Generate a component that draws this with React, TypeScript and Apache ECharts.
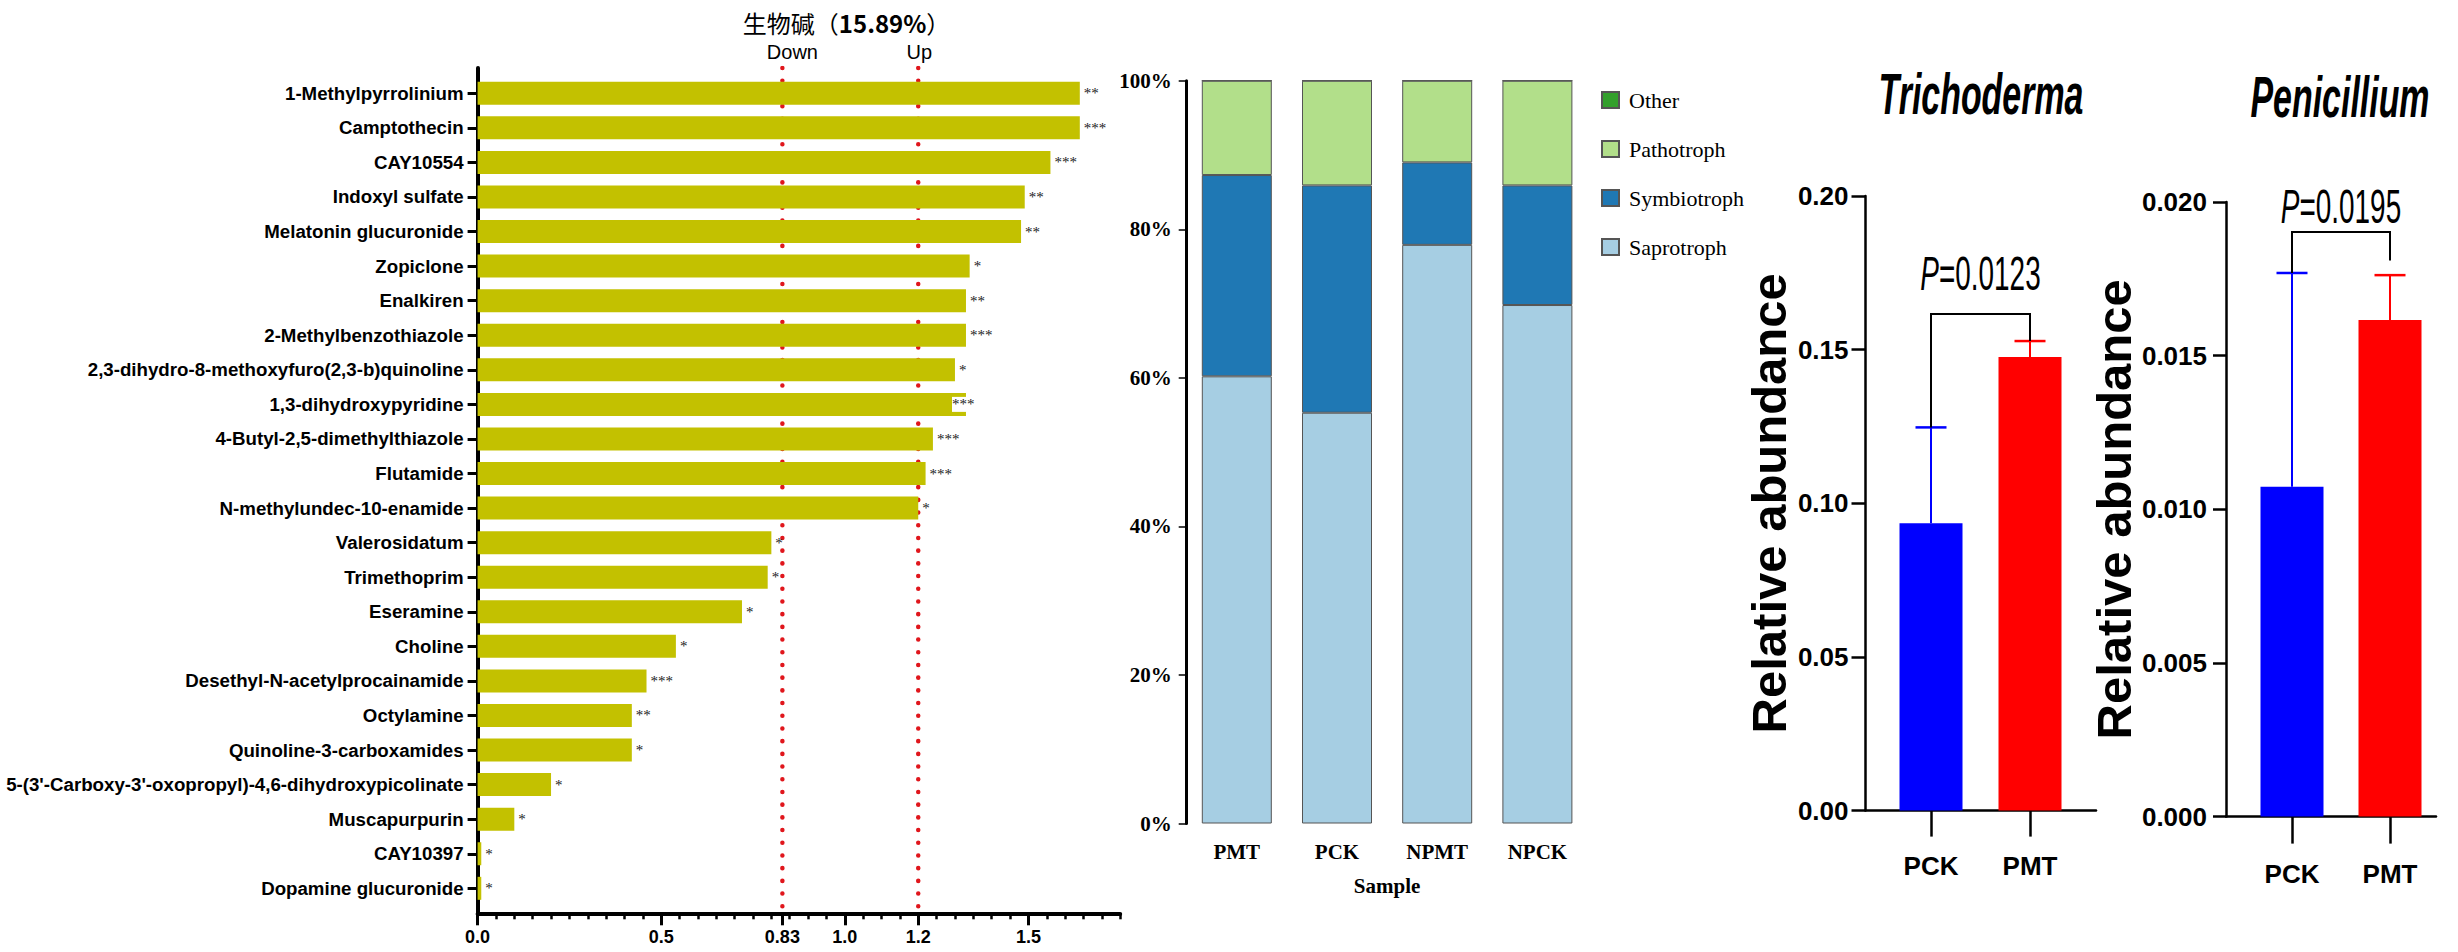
import React, { useEffect, useRef } from 'react';
import * as echarts from 'echarts';

// ---------- Left panel: alkaloid fold changes ----------
const compounds = [
  '1-Methylpyrrolinium', 'Camptothecin', 'CAY10554', 'Indoxyl sulfate', 'Melatonin glucuronide',
  'Zopiclone', 'Enalkiren', '2-Methylbenzothiazole', '2,3-dihydro-8-methoxyfuro(2,3-b)quinoline',
  '1,3-dihydroxypyridine', '4-Butyl-2,5-dimethylthiazole', 'Flutamide', 'N-methylundec-10-enamide',
  'Valerosidatum', 'Trimethoprim', 'Eseramine', 'Choline', 'Desethyl-N-acetylprocainamide',
  'Octylamine', 'Quinoline-3-carboxamides', "5-(3'-Carboxy-3'-oxopropyl)-4,6-dihydroxypicolinate",
  'Muscapurpurin', 'CAY10397', 'Dopamine glucuronide',
];
const foldChange = [
  1.64, 1.64, 1.56, 1.49, 1.48, 1.34, 1.33, 1.33, 1.30, 1.33, 1.24, 1.22, 1.20,
  0.80, 0.79, 0.72, 0.54, 0.46, 0.42, 0.42, 0.20, 0.10, 0.01, 0.01,
];
const significance = [
  '**', '***', '***', '**', '**', '*', '**', '***', '*', '***', '***', '***', '*',
  '*', '*', '*', '*', '***', '**', '*', '*', '*', '*', '*',
];
const thresholds = [0.83, 1.2];
const thresholdNames = ['Down', 'Up'];
const foldTickValues = [0, 0.5, 0.83, 1.0, 1.2, 1.5];
const leftTitle = '生物碱（';
const leftTitlePct = '15.89%';

// ---------- Middle panel: fungal guilds ----------
const samples = ['PMT', 'PCK', 'NPMT', 'NPCK'];
const guildNames = ['Saprotroph', 'Symbiotroph', 'Pathotroph', 'Other'];
const saprotroph = [60.2, 55.3, 77.9, 69.8];
const symbiotroph = [27.1, 30.6, 11.1, 16.1];
const pathotroph = [12.7, 14.1, 11.0, 14.1];
const otherGuild = [0, 0, 0, 0];

// ---------- Right panels ----------
const groups = ['PCK', 'PMT'];
const trichodermaMean = [0.0935, 0.1476];
const trichodermaErr = [0.0312, 0.0052];
const trichodermaBracket = [0.1616, 0.1247, 0.1528, 0.1749]; // bracket y, left leg end, right leg end, label y
const trichodermaP = '0.0123';
const penicilliumMean = [0.01073, 0.01616];
const penicilliumErr = [0.00696, 0.00146];
const penicilliumBracket = [0.01902, 0.01769, 0.0181, 0.01987];
const penicilliumP = '0.0195';

const SANS = '"Liberation Sans", Arial, sans-serif';
const SERIF = '"Liberation Serif", "Times New Roman", serif';
const CJK = '"Noto Sans CJK SC", sans-serif';

const guildColors = ['#a6cee3', '#1f78b4', '#b2df8a', '#33a02c'];
const groupColors = ['#0000ff', '#ff0000'];

function errorSeries(xi: number, yi: number, mean: number[], err: number[]) {
  return {
    type: 'custom',
    xAxisIndex: xi,
    yAxisIndex: yi,
    z: 4,
    silent: true,
    data: mean.map((m, i) => [i, m, m + err[i]]),
    renderItem: (params: any, api: any) => {
      const lo = api.coord([api.value(0), api.value(1)]);
      const hi = api.coord([api.value(0), api.value(2)]);
      const c = groupColors[params.dataIndex];
      return {
        type: 'group',
        children: [
          { type: 'line', shape: { x1: lo[0], y1: lo[1], x2: hi[0], y2: hi[1] }, style: { stroke: c, lineWidth: 2 } },
          { type: 'line', shape: { x1: hi[0] - 15.5, y1: hi[1], x2: hi[0] + 15.5, y2: hi[1] }, style: { stroke: c, lineWidth: 2.5 } },
        ],
      };
    },
  };
}

function bracketSeries(xi: number, yi: number, b: number[], pText: string) {
  return {
    type: 'custom',
    xAxisIndex: xi,
    yAxisIndex: yi,
    z: 5,
    silent: true,
    data: [[0, b[0], b[1], b[2], b[3]]],
    renderItem: (params: any, api: any) => {
      const br = api.value(1);
      const l = api.coord([0, api.value(2)]);
      const p0 = api.coord([0, br]);
      const p1 = api.coord([1, br]);
      const r = api.coord([1, api.value(3)]);
      const ty = api.coord([0, api.value(4)])[1];
      return {
        type: 'group',
        children: [
          {
            type: 'polyline',
            shape: { points: [l, p0, p1, r] },
            style: { stroke: '#000', lineWidth: 2, fill: 'none' },
          },
          {
            type: 'text',
            x: (p0[0] + p1[0]) / 2,
            y: ty,
            scaleX: 0.57,
            style: {
              text: '{i|P}=' + pText,
              fill: '#000',
              fontFamily: SANS,
              fontSize: 49,
              align: 'center',
              verticalAlign: 'middle',
              rich: { i: { fontStyle: 'italic', fontFamily: SANS, fontSize: 49, fill: '#000' } },
            },
          },
        ],
      };
    },
  };
}

function buildOption() {
  const rightLabel = { fontFamily: SANS, fontWeight: 'bold', fontSize: 26, color: '#000' };
  return {
    animation: false,
    backgroundColor: '#ffffff',
    textStyle: { fontFamily: SANS },
    grid: [
      { left: 477.6, top: 76, width: 642.6, height: 829.6, containLabel: false },
      { left: 477.6, top: 68, width: 642.6, height: 845.3, containLabel: false },
      { left: 1186.7, top: 80.7, width: 400.8, height: 742.8, containLabel: false },
      { left: 1881.5, top: 196, width: 198, height: 614.6, containLabel: false },
      { left: 1865.5, top: 196, width: 230.5, height: 614.6, containLabel: false },
      { left: 2243, top: 202, width: 196, height: 614.6, containLabel: false },
      { left: 2226, top: 202, width: 210, height: 614.6, containLabel: false },
    ],
    xAxis: [
      { gridIndex: 0, type: 'value', min: 0, max: 1.75, show: false },
      {
        gridIndex: 1, type: 'value', position: 'bottom', min: 0, max: 1.75, interval: 0.05,
        axisLine: { show: true, lineStyle: { color: '#000', width: 4 } },
        axisTick: { show: true, length: 6, lineStyle: { color: '#000', width: 2.5 } },
        axisLabel: {
          show: true, customValues: foldTickValues, margin: 15,
          formatter: (v: number) => (Math.abs(v - 0.83) < 1e-6 ? '0.83' : v.toFixed(1)),
          fontFamily: SANS, fontWeight: 'bold', fontSize: 18, color: '#000',
        },
        splitLine: { show: false },
      },
      {
        gridIndex: 1, type: 'value', position: 'bottom', offset: 0, min: 0, max: 1.75,
        axisLine: { show: false, onZero: false },
        axisTick: { show: true, customValues: foldTickValues, length: 12, lineStyle: { color: '#000', width: 3 } },
        axisLabel: { show: false },
        splitLine: { show: false },
      },
      {
        gridIndex: 2, type: 'category', data: samples,
        axisLine: { show: false }, axisTick: { show: false },
        axisLabel: { margin: 18, fontFamily: SERIF, fontWeight: 'bold', fontSize: 21, color: '#000' },
        name: 'Sample', nameLocation: 'middle', nameGap: 52,
        nameTextStyle: { fontFamily: SERIF, fontWeight: 'bold', fontSize: 21, color: '#000' },
      },
      {
        gridIndex: 3, type: 'category', data: groups,
        axisLine: { show: false },
        axisTick: { show: true, alignWithLabel: true, length: 26, lineStyle: { color: '#000', width: 2.5 } },
        axisLabel: { margin: 42, ...rightLabel },
      },
      {
        gridIndex: 4, type: 'value', min: 0, max: 1,
        axisLine: { show: true, lineStyle: { color: '#000', width: 2.5 } },
        axisTick: { show: false }, axisLabel: { show: false }, splitLine: { show: false },
      },
      {
        gridIndex: 5, type: 'category', data: groups,
        axisLine: { show: false },
        axisTick: { show: true, alignWithLabel: true, length: 27, lineStyle: { color: '#000', width: 2.5 } },
        axisLabel: { margin: 44, ...rightLabel },
      },
      {
        gridIndex: 6, type: 'value', min: 0, max: 1,
        axisLine: { show: true, lineStyle: { color: '#000', width: 2.5 } },
        axisTick: { show: false }, axisLabel: { show: false }, splitLine: { show: false },
      },
    ],
    yAxis: [
      {
        gridIndex: 0, type: 'category', data: compounds, inverse: true,
        axisLine: { show: false },
        axisTick: { show: true, alignWithLabel: true, length: 10, lineStyle: { color: '#000', width: 3 } },
        axisLabel: { interval: 0, margin: 14, fontFamily: SANS, fontWeight: 'bold', fontSize: 18.7, color: '#000' },
      },
      {
        gridIndex: 1, type: 'value', min: 0, max: 1,
        axisLine: { show: true, lineStyle: { color: '#000', width: 4 } },
        axisTick: { show: false }, axisLabel: { show: false }, splitLine: { show: false },
      },
      {
        gridIndex: 2, type: 'value', min: 0, max: 100, interval: 20,
        axisLine: { show: true, lineStyle: { color: '#000', width: 3 } },
        axisTick: { show: true, length: 8, lineStyle: { color: '#000', width: 1.5 } },
        axisLabel: { formatter: '{value}%', margin: 15, fontFamily: SERIF, fontWeight: 'bold', fontSize: 21, color: '#000' },
        splitLine: { show: false },
      },
      { gridIndex: 3, type: 'value', min: 0, max: 0.2, show: false },
      {
        gridIndex: 4, type: 'value', min: 0, max: 0.2, interval: 0.05,
        axisLine: { show: true, lineStyle: { color: '#000', width: 2.5 } },
        axisTick: { show: true, length: 14, lineStyle: { color: '#000', width: 2.5 } },
        axisLabel: { margin: 17, formatter: (v: number) => v.toFixed(2), ...rightLabel },
        splitLine: { show: false },
        name: 'Relative abundance', nameLocation: 'middle', nameGap: 58,
        nameTextStyle: { fontFamily: SANS, fontWeight: 'bold', fontSize: 49, color: '#000' },
      },
      { gridIndex: 5, type: 'value', min: 0, max: 0.02, show: false },
      {
        gridIndex: 6, type: 'value', min: 0, max: 0.02, interval: 0.005,
        axisLine: { show: true, lineStyle: { color: '#000', width: 2.5 } },
        axisTick: { show: true, length: 13, lineStyle: { color: '#000', width: 2.5 } },
        axisLabel: { margin: 19, formatter: (v: number) => v.toFixed(3), ...rightLabel },
        splitLine: { show: false },
        name: 'Relative abundance', nameLocation: 'middle', nameGap: 66,
        nameTextStyle: { fontFamily: SANS, fontWeight: 'bold', fontSize: 49, color: '#000' },
      },
    ],
    legend: {
      data: ['Other', 'Pathotroph', 'Symbiotroph', 'Saprotroph'],
      orient: 'vertical', left: 1596, top: 84,
      itemWidth: 17, itemHeight: 16, itemGap: 27, icon: 'rect', selectedMode: false,
      textStyle: { fontFamily: SERIF, fontSize: 22, color: '#000', padding: [0, 0, 0, 5] },
    },
    graphic: [
      {
        type: 'text', x: 846.6, y: 22,
        style: {
          text: leftTitle + '{b|' + leftTitlePct + '}）',
          fontFamily: CJK, fontSize: 24, fill: '#000', align: 'center', verticalAlign: 'middle',
          rich: { b: { fontFamily: CJK, fontSize: 24, fontWeight: 'bold', fill: '#000' } },
        },
      },
      {
        type: 'text', x: 1981, y: 94, scaleX: 0.585,
        style: { text: 'Trichoderma', fontFamily: SANS, fontSize: 58, fontWeight: 'bold', fontStyle: 'italic', fill: '#000', align: 'center', verticalAlign: 'middle' },
      },
      {
        type: 'text', x: 2340, y: 97, scaleX: 0.585,
        style: { text: 'Penicillium', fontFamily: SANS, fontSize: 58, fontWeight: 'bold', fontStyle: 'italic', fill: '#000', align: 'center', verticalAlign: 'middle' },
      },
    ],
    series: [
      {
        type: 'bar', xAxisIndex: 0, yAxisIndex: 0, barWidth: 23, z: 3, silent: true,
        itemStyle: { color: '#c3c100' },
        data: foldChange.map((v, i) =>
          i === 9 ? { value: v, label: { offset: [-18, 0], backgroundColor: '#ffffff' } } : v),
        label: {
          show: true, position: 'right', distance: 4,
          formatter: (p: any) => significance[p.dataIndex],
          fontFamily: SERIF, fontSize: 15, color: '#222',
        },
      },
      ...thresholds.map((t, k) => ({
        type: 'line', xAxisIndex: 1, yAxisIndex: 1, z: 1, silent: true,
        symbol: 'circle', symbolSize: 0.01, showSymbol: true,
        lineStyle: { color: '#e0161c', width: 4.5, type: [0.1, 12.6], cap: 'round' },
        itemStyle: { color: '#e0161c' },
        data: [
          {
            value: [t, 1],
            label: {
              show: true, position: 'top', distance: 6, formatter: thresholdNames[k],
              fontFamily: SANS, fontSize: 20, color: '#000', offset: [k === 0 ? 10 : 1, 0],
            },
          },
          [t, 0],
        ],
      })),
      ...[saprotroph, symbiotroph, pathotroph, otherGuild].map((d, k) => ({
        type: 'bar', name: guildNames[k], xAxisIndex: 3, yAxisIndex: 2, stack: 'guild', barWidth: 70, silent: true,
        itemStyle: { color: guildColors[k], borderColor: '#555555', borderWidth: 1 },
        data: d,
      })),
      {
        type: 'bar', xAxisIndex: 4, yAxisIndex: 3, barWidth: 63, z: 3, silent: true,
        data: trichodermaMean.map((v, i) => ({ value: v, itemStyle: { color: groupColors[i] } })),
      },
      errorSeries(4, 3, trichodermaMean, trichodermaErr),
      bracketSeries(4, 3, trichodermaBracket, trichodermaP),
      {
        type: 'bar', xAxisIndex: 6, yAxisIndex: 5, barWidth: 63, z: 3, silent: true,
        data: penicilliumMean.map((v, i) => ({ value: v, itemStyle: { color: groupColors[i] } })),
      },
      errorSeries(6, 5, penicilliumMean, penicilliumErr),
      bracketSeries(6, 5, penicilliumBracket, penicilliumP),
    ],
  };
}

export default function App() {
  const ref = useRef<HTMLDivElement>(null);
  useEffect(() => {
    if (!ref.current) return;
    const chart = echarts.init(ref.current, null, { renderer: 'svg' });
    chart.setOption(buildOption() as any);
    return () => chart.dispose();
  }, []);
  return (
    <div
      ref={ref}
      style={{ position: 'fixed', left: 0, top: 0, width: 2458, height: 952, background: '#fff' }}
    />
  );
}
